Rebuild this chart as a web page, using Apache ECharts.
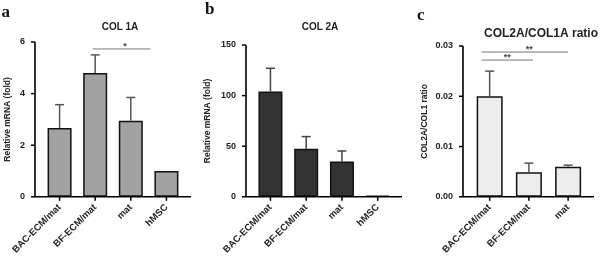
<!DOCTYPE html>
<html><head><meta charset="utf-8">
<script src="https://cdn.jsdelivr.net/npm/echarts@6/dist/echarts.min.js"></script>
<style>html,body{margin:0;padding:0;background:#fff}#c{width:600px;height:257px}</style>
</head><body><div id="c"></div>
<script>
// ---- data ----
const catsAB = ['BAC-ECM/mat', 'BF-ECM/mat', 'mat', 'hMSC'];
const catsC = ['BAC-ECM/mat', 'BF-ECM/mat', 'mat'];
const col1aMean = [2.67, 4.8, 2.95, 1.0];
const col1aTop  = [3.57, 5.5, 3.85, null];
const col2aMean = [104, 47.5, 35, 1];
const col2aTop  = [127, 59.5, 45.3, null];
const ratioMean = [0.020, 0.0049, 0.0060];
const ratioTop  = [0.025, 0.0067, 0.0063];
const ticksA = [0, 2, 4, 6];
const ticksB = [0, 50, 100, 150];
const ticksC = [0, 0.01, 0.02, 0.03];
// significance brackets: [fromX, toX, yValue, label, labelX]
const sigA = [[0.93, 2.55, 5.73, '*', 1.84]];
const sigC = [[-0.21, 2.0, 0.0288, '**', 1.01], [-0.21, 1.1, 0.0272, '**', 0.45]];

const FONT = 'Liberation Sans, Arial, sans-serif';
const TXT = '#222';
const X_RANGE = [[-0.69, 3.69], [-0.684, 3.68], [-0.68, 2.66]];

function barData(vals) { return vals.map((v, i) => [i, v]); }
function errData(mean, top) {
  const out = [];
  mean.forEach((m, i) => { if (top[i] != null) out.push([i, m, top[i]]); });
  return out;
}
function errSeries(idx, mean, top, color) {
  const rows = errData(mean, top);
  return {
    type: 'custom', xAxisIndex: idx, yAxisIndex: idx, z: 5, clip: false,
    dimensions: ['x', 'mean', 'top'],
    encode: { x: 0, y: 1 },
    data: rows,
    renderItem: function (params, api) {
      const r = rows[params.dataIndex];
      const p0 = api.coord([r[0], r[1]]);
      const p1 = api.coord([r[0], r[2]]);
      const st = { stroke: color, lineWidth: 1.5 };
      return { type: 'group', children: [
        { type: 'line', shape: { x1: p0[0], y1: p0[1], x2: p1[0], y2: p1[1] }, style: st },
        { type: 'line', shape: { x1: p1[0] - 4.5, y1: p1[1], x2: p1[0] + 4.5, y2: p1[1] }, style: st }
      ] };
    }
  };
}
function sigSeries(idx, sig) {
  return {
    type: 'custom', xAxisIndex: idx, yAxisIndex: idx, z: 6, clip: false,
    dimensions: ['from', 'to', 'y', 'label', 'lx'],
    encode: { x: 0, y: 2 },
    data: sig,
    renderItem: function (params, api) {
      const s = sig[params.dataIndex];
      const a = api.coord([s[0], s[2]]);
      const b = api.coord([s[1], s[2]]);
      const t = api.coord([s[4], s[2]]);
      return { type: 'group', children: [
        { type: 'line', shape: { x1: a[0], y1: a[1], x2: b[0], y2: b[1] }, style: { stroke: '#777', lineWidth: 1 } },
        { type: 'text', x: t[0], y: t[1] + 2, style: { text: s[3], fill: '#444', font: 'bold 9px ' + FONT, align: 'center', verticalAlign: 'bottom' } }
      ] };
    }
  };
}
// L-shaped axis frame as a plain line series through the axes' own scales
function frameLine(idx, yTicks) {
  const xr = X_RANGE[idx];
  const ymin = yTicks[0], ymax = yTicks[yTicks.length - 1];
  return {
    type: 'line', xAxisIndex: idx, yAxisIndex: idx, z: 4, clip: false, silent: true,
    symbol: 'none', animation: false,
    lineStyle: { color: '#000', width: 1.6 },
    data: [[xr[0], ymax], [xr[0], ymin], [xr[1], ymin]]
  };
}
// outward tick marks through the axes' scales
function tickSeries(idx, cats, yTicks) {
  const xr = X_RANGE[idx];
  const ymin = yTicks[0];
  const items = yTicks.map(t => [xr[0], t, 0]).concat(cats.map((c, i) => [i, ymin, 1]));
  return {
    type: 'custom', xAxisIndex: idx, yAxisIndex: idx, z: 4, clip: false, silent: true,
    dimensions: ['x', 'y', 'k'],
    encode: { x: 0, y: 1 },
    data: items,
    renderItem: function (params, api) {
      const it = items[params.dataIndex];
      const p = api.coord([it[0], it[1]]);
      const st = { stroke: '#000', lineWidth: 1.5 };
      return it[2] === 0
        ? { type: 'line', shape: { x1: p[0] - 4, y1: p[1], x2: p[0], y2: p[1] }, style: st }
        : { type: 'line', shape: { x1: p[0], y1: p[1], x2: p[0], y2: p[1] + 4 }, style: st };
    }
  };
}
function xAxis(idx, cats) {
  const vals = cats.map((c, i) => i);
  return {
    type: 'value', gridIndex: idx, min: X_RANGE[idx][0], max: X_RANGE[idx][1],
    splitLine: { show: false },
    axisLine: { show: false, onZero: false },
    axisTick: { show: false },
    axisLabel: { customValues: vals, formatter: v => cats[Math.round(v)], rotate: 45, margin: 9,
      fontSize: 9.5, fontWeight: 'bold', fontFamily: FONT, color: TXT }
  };
}
function yAxis(idx, ticks, name, gap, fmt) {
  return {
    type: 'value', gridIndex: idx, min: ticks[0], max: ticks[ticks.length - 1],
    interval: ticks[1] - ticks[0],
    name: name, nameLocation: 'middle', nameGap: gap,
    nameTextStyle: { fontSize: 8.5, fontWeight: 'bold', fontFamily: FONT, color: TXT },
    splitLine: { show: false },
    axisLine: { show: false, onZero: false },
    axisTick: { show: false },
    axisLabel: { margin: 10, fontSize: 9, fontWeight: 'bold', fontFamily: FONT, color: TXT, formatter: fmt }
  };
}
function bar(idx, vals, color, w) {
  return {
    type: 'bar', xAxisIndex: idx, yAxisIndex: idx, barWidth: w, z: 2,
    data: barData(vals),
    itemStyle: { color: color, borderColor: '#111', borderWidth: 1.5 }
  };
}
const serifStyle = { fontFamily: 'Liberation Serif, serif', fontWeight: 'bold', fontSize: 17, color: '#111' };
const sansTitle = s => ({ fontFamily: FONT, fontWeight: 'bold', fontSize: s, color: TXT });

const option = {
  animation: false,
  backgroundColor: '#fff',
  title: [
    { text: 'a', left: 1.5, top: 4, padding: 0, textStyle: serifStyle },
    { text: 'b', left: 205, top: 1, padding: 0, textStyle: serifStyle },
    { text: 'c', left: 417, top: 7, padding: 0, textStyle: serifStyle },
    { text: 'COL 1A', left: 120, top: 22, padding: 0, textAlign: 'center', textStyle: sansTitle(10) },
    { text: 'COL 2A', left: 320, top: 22, padding: 0, textAlign: 'center', textStyle: sansTitle(10) },
    { text: 'COL2A/COL1A ratio', left: 541, top: 28, padding: 0, textAlign: 'center', textStyle: sansTitle(12) }
  ],
  grid: [
    { left: 35, top: 42, width: 156, height: 158 },
    { left: 246, top: 45, width: 156, height: 155 },
    { left: 463, top: 46, width: 131, height: 154 }
  ],
  xAxis: [xAxis(0, catsAB), xAxis(1, catsAB), xAxis(2, catsC)],
  yAxis: [
    yAxis(0, ticksA, 'Relative mRNA (fold)', 23, v => String(v)),
    yAxis(1, ticksB, 'Relative mRNA (fold)', 34, v => String(v)),
    yAxis(2, ticksC, 'COL2A/COL1 ratio', 34, v => v.toFixed(2))
  ],
  series: [
    bar(0, col1aMean, '#a2a2a2', 24),
    errSeries(0, col1aMean, col1aTop, '#555'),
    sigSeries(0, sigA),
    frameLine(0, ticksA),
    tickSeries(0, catsAB, ticksA),
    bar(1, col2aMean, '#333333', 24),
    errSeries(1, col2aMean, col2aTop, '#444'),
    frameLine(1, ticksB),
    tickSeries(1, catsAB, ticksB),
    bar(2, ratioMean, '#ededed', 26),
    errSeries(2, ratioMean, ratioTop, '#555'),
    sigSeries(2, sigC),
    frameLine(2, ticksC),
    tickSeries(2, catsC, ticksC)
  ]
};
const chart = echarts.init(document.getElementById('c'), null, { renderer: 'canvas' });
chart.setOption(option);
</script>
</body></html>
